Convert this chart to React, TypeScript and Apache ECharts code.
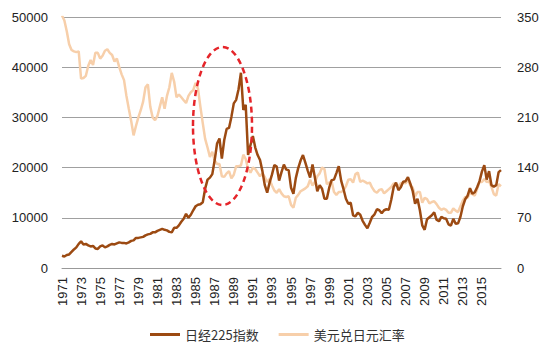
import React, { useEffect, useRef } from "react";
import * as echarts from "echarts";

// Quarterly observations, 1971Q1 .. 2017Q1
const startYear = 1971;
const nikkei = [
  2450, 2300, 2600, 2700,
  3200, 3700, 4100, 4800,
  5300, 4700, 4800, 4500,
  4300, 4400, 3900, 3800,
  4300, 4500, 4100, 4300,
  4600, 4800, 4700, 4900,
  5100, 5000, 5000, 4900,
  5100, 5400, 5500, 6000,
  6000, 6100, 6200, 6500,
  6700, 6800, 7100, 7100,
  7400, 7600, 7800, 7600,
  7500, 7200, 7100, 8000,
  8000, 8500, 9200, 9800,
  10800, 10000, 10600, 11500,
  12300, 12600, 12700, 13100,
  15800, 17600, 18000, 18700,
  21500, 24800, 25800, 21800,
  25500, 27700, 27900, 30100,
  32800, 33500, 35600, 38900,
  31500, 32500, 22500, 24500,
  26300, 24000, 22500, 21500,
  19300, 16500, 15000, 17000,
  18600, 20500, 20200, 17400,
  19100, 20600, 19600, 19500,
  16000, 14800, 17900, 19900,
  21400, 22500, 21000, 19400,
  18000, 20600, 18000, 15300,
  16500, 15800, 13800, 13800,
  16000, 17500, 17600, 18900,
  20300, 17400, 15700, 13800,
  12800, 13000, 10500, 10300,
  11000, 10600, 9400, 8600,
  7900, 9000, 10200, 10700,
  11700, 11500, 10900, 11500,
  11700, 11600, 13600, 16100,
  17000, 15500, 16100, 17200,
  17300, 18100, 16800, 15300,
  12800, 13800, 11500, 8500,
  7600, 9700, 10100, 10500,
  11100, 9600, 9300, 10200,
  9900, 9800, 8700, 8450,
  9800, 8800, 8900, 10200,
  12300, 13700, 14400, 15900,
  14800, 15100, 16100, 17300,
  19200, 20500, 17600, 19300,
  16500, 16200, 16500, 19100,
  19500,
];
const usdjpy = [
  352, 345, 330, 312,
  304, 302, 301, 302,
  264, 265, 268, 282,
  290, 283, 300, 300,
  292, 296, 303, 305,
  300, 297, 288, 292,
  280, 270, 262, 240,
  222, 205, 185, 198,
  210, 220, 232, 252,
  256, 225, 210, 206,
  212, 225, 238, 222,
  240, 252, 272, 260,
  238, 242, 238, 234,
  230, 240, 245, 248,
  258, 250, 225, 202,
  180, 168, 155, 162,
  150, 145, 145, 128,
  127, 132, 135, 125,
  130, 142, 142, 143,
  158, 152, 138, 133,
  140, 138, 133, 128,
  132, 127, 120, 124,
  115, 108, 105, 110,
  104, 100, 99, 100,
  88, 84, 98, 102,
  107, 109, 111, 114,
  123, 115, 120, 128,
  132, 140, 138, 117,
  119, 121, 106, 102,
  106, 106, 108, 114,
  123, 124, 119, 131,
  133, 120, 122, 120,
  118, 119, 112, 107,
  105, 109, 110, 104,
  107, 110, 113, 118,
  117, 114, 118, 119,
  118, 123, 115, 112,
  100, 106, 106, 91,
  98, 96, 90, 92,
  93, 89, 84, 81,
  83, 81, 77, 77,
  83, 80, 78, 86,
  94, 99, 98, 105,
  103, 101, 110, 120,
  120, 124, 120, 121,
  113, 103, 101, 117,
  114,
];
const tickYears = [1971, 1973, 1975, 1977, 1979, 1981, 1983, 1985, 1987, 1989, 1991, 1993, 1995, 1997, 1999, 2001, 2003, 2005, 2007, 2009, 2011, 2013, 2015];
const leftTicks = [0, 10000, 20000, 30000, 40000, 50000];
const rightTicks = [0, 70, 140, 210, 280, 350];
const seriesNames = ["日经225指数", "美元兑日元汇率"];

const categories = nikkei.map((_, i) => `${startYear + Math.floor(i / 4)}Q${(i % 4) + 1}`);

const FONT = "'Liberation Sans', Arial, 'Noto Sans CJK SC', sans-serif";

export default function App() {
  const ref = useRef<HTMLDivElement>(null);
  useEffect(() => {
    document.body.style.margin = "0";
    if (!ref.current) return;
    const chart = echarts.init(ref.current, null, { renderer: "svg" });
    const tickSet = new Set(tickYears.map((y) => `${y}Q1`));
    chart.setOption({
      animation: false,
      backgroundColor: "#ffffff",
      textStyle: { fontFamily: FONT },
      grid: { left: 62, right: 49, top: 17, bottom: 84, containLabel: false },
      legend: {
        data: seriesNames,
        left: 145,
        top: 323,
        itemWidth: 30,
        itemHeight: 3,
        itemGap: 20,
        icon: "rect",
        textStyle: { fontSize: 13, color: "#333333", fontFamily: "'Noto Sans CJK SC', sans-serif" },
      },
      xAxis: {
        type: "category",
        data: categories,
        boundaryGap: false,
        axisTick: { show: false },
        axisLine: { lineStyle: { color: "#999999", width: 1 } },
        axisLabel: {
          rotate: 90,
          margin: 9,
          fontSize: 13,
          color: "#222222",
          interval: (_idx: number, val: string) => tickSet.has(val),
          formatter: (val: string) => val.slice(0, 4),
        },
        splitLine: { show: false },
      },
      yAxis: [
        {
          type: "value",
          min: leftTicks[0],
          max: leftTicks[leftTicks.length - 1],
          interval: leftTicks[1] - leftTicks[0],
          axisLine: { show: false },
          axisTick: { show: false },
          axisLabel: { fontSize: 13, color: "#222222", margin: 14, formatter: (v: number) => String(v) },
          splitLine: { lineStyle: { color: "#A0A0A0", width: 1 } },
        },
        {
          type: "value",
          min: rightTicks[0],
          max: rightTicks[rightTicks.length - 1],
          interval: rightTicks[1] - rightTicks[0],
          axisLine: { show: false },
          axisTick: { show: false },
          axisLabel: { fontSize: 13, color: "#222222", margin: 16, formatter: (v: number) => String(v) },
          splitLine: { show: false },
        },
      ],
      series: [
        {
          name: seriesNames[0],
          type: "line",
          yAxisIndex: 0,
          data: nikkei,
          showSymbol: false,
          z: 3,
          lineStyle: { color: "#9C4A12", width: 2.5 },
          itemStyle: { color: "#9C4A12" },
        },
        {
          name: seriesNames[1],
          type: "line",
          yAxisIndex: 1,
          data: usdjpy,
          showSymbol: false,
          z: 2,
          lineStyle: { color: "#F7CFAA", width: 2.5 },
          itemStyle: { color: "#F7CFAA" },
        },
      ],
      graphic: [
        {
          type: "ellipse",
          shape: { cx: 222.5, cy: 126, rx: 29.5, ry: 79 },
          z: 100,
          style: { fill: "none", stroke: "#E5252A", lineWidth: 2.5, lineDash: [6, 4] },
        },
      ],
    });
    return () => chart.dispose();
  }, []);
  return <div ref={ref} style={{ width: 550, height: 352 }} />;
}
